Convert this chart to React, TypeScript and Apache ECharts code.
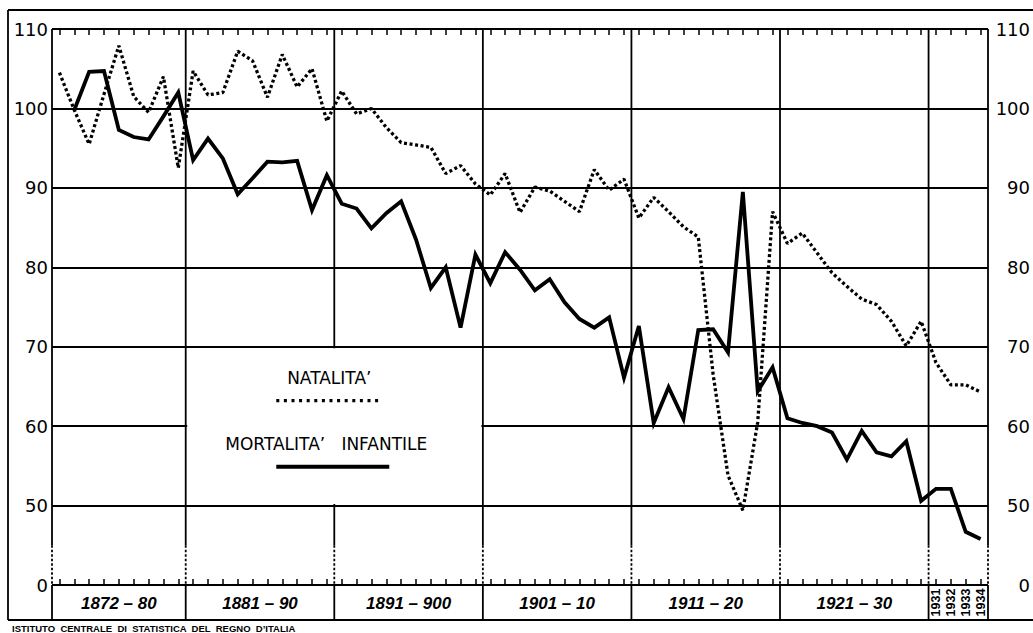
import React, { useEffect, useRef } from "react";
import * as echarts from "echarts";

const years = [
  "1872", "1873", "1874", "1875", "1876", "1877", "1878", "1879", "1880",
  "1881", "1882", "1883", "1884", "1885", "1886", "1887", "1888", "1889", "1890",
  "1891", "1892", "1893", "1894", "1895", "1896", "1897", "1898", "1899", "1900",
  "1901", "1902", "1903", "1904", "1905", "1906", "1907", "1908", "1909", "1910",
  "1911", "1912", "1913", "1914", "1915", "1916", "1917", "1918", "1919", "1920",
  "1921", "1922", "1923", "1924", "1925", "1926", "1927", "1928", "1929", "1930",
  "1931", "1932", "1933", "1934",
];

const natalita = [
  104.5, 99.8, 95.5, 101.8, 107.9, 101.5, 99.5, 104.0, 92.5,
  104.7, 101.7, 102.0, 107.2, 106.0, 101.4, 106.8, 102.7, 105.0, 98.4,
  102.2, 99.3, 100.0, 97.6, 95.7, 95.4, 95.1, 91.8, 92.8, 90.5,
  89.1, 91.8, 86.9, 90.1, 89.6, 88.3, 87.0, 92.3, 89.7, 91.1,
  86.2, 88.8, 87.0, 85.1, 83.8, 66.5, 53.8, 49.4, 60.5, 87.0,
  83.0, 84.3, 81.8, 79.3, 77.6, 76.0, 75.3, 73.2, 70.1, 73.2,
  68.0, 65.2, 65.2, 64.3,
];

const mortalita = [
  null, 99.8, 104.6, 104.7, 97.3, 96.4, 96.1, 99.0, 102.0,
  93.5, 96.2, 93.7, 89.2, 91.2, 93.3, 93.2, 93.4, 87.2, 91.6,
  88.0, 87.4, 84.9, 86.8, 88.3, 83.5, 77.4, 80.0, 72.4, 81.6,
  78.0, 81.9, 79.7, 77.1, 78.5, 75.6, 73.5, 72.4, 73.7, 66.1,
  72.6, 60.4, 64.9, 60.9, 72.1, 72.2, 69.3, 89.5, 64.4, 67.4,
  61.0, 60.4, 60.0, 59.2, 55.8, 59.4, 56.7, 56.2, 58.1, 50.6,
  52.1, 52.1, 46.7, 45.8,
];

// broken axis: bottom of scale is labelled 0
const axisMin = 40;
const axisMax = 110;
const axisStep = 10;
const breakValue = 45;

const decadeLabels = ["1872 – 80", "1881 – 90", "1891 – 900", "1901 – 10", "1911 – 20", "1921 – 30"];
const sectionStarts = [0, 9, 19, 29, 39, 49, 59]; // index of first year in each section
const singleYearStart = 59;
const legendNames = ["NATALITA’", "MORTALITA’   INFANTILE"];
const caption = "ISTITUTO  CENTRALE  DI  STATISTICA  DEL  REGNO  D’ITALIA";

export default function App() {
  const ref = useRef<HTMLDivElement>(null);

  useEffect(() => {
    const chart = echarts.init(ref.current!, null, { renderer: "svg" });
    const font = "DejaVu Sans";
    const tickCommon = {
      show: true,
      inside: true,
      alignWithLabel: true,
      interval: 0,
      length: 6,
      lineStyle: { color: "#000", width: 1.5 },
    };
    const yLabelFmt = (v: number) => (v === axisMin ? "0" : String(v));
    chart.setOption({
      animation: false,
      backgroundColor: "#fff",
      grid: { left: 52, right: 42, top: 29, bottom: 48 },
      xAxis: [
        {
          type: "category",
          data: years,
          position: "bottom",
          boundaryGap: true,
          axisLine: { show: false },
          axisLabel: { show: false },
          axisTick: tickCommon,
          splitLine: { show: false },
        },
        {
          type: "category",
          data: years,
          position: "top",
          boundaryGap: true,
          axisLine: { show: false },
          axisLabel: { show: false },
          axisTick: tickCommon,
          splitLine: { show: false },
        },
      ],
      yAxis: [
        {
          type: "value",
          min: axisMin,
          max: axisMax,
          interval: axisStep,
          position: "left",
          axisLine: { show: false },
          axisTick: { show: false },
          axisLabel: { formatter: yLabelFmt, fontSize: 18, color: "#000", fontFamily: font, margin: 4 },
          splitLine: { show: true, lineStyle: { color: "#000", width: 1.8 } },
        },
        {
          type: "value",
          min: axisMin,
          max: axisMax,
          interval: axisStep,
          position: "right",
          axisLine: { show: false },
          axisTick: { show: false },
          axisLabel: { formatter: yLabelFmt, fontSize: 18, color: "#000", fontFamily: font, margin: 42, align: "right" },
          splitLine: { show: false },
        },
      ],
      series: [
        {
          name: "Natalità",
          type: "line",
          data: natalita,
          symbol: "none",
          z: 3,
          lineStyle: { color: "#000", width: 3.3, type: [3, 2.6], cap: "butt" },
        },
        {
          name: "Mortalità infantile",
          type: "line",
          data: mortalita,
          symbol: "none",
          z: 4,
          lineStyle: { color: "#000", width: 3.8, join: "miter", cap: "butt" },
        },
      ],
    });

    const N = years.length;
    const cx = (i: number) => chart.convertToPixel({ xAxisIndex: 0 }, years[i]) as number;
    const band = cx(1) - cx(0);
    const edge = (i: number) => (i < N ? cx(i) - band / 2 : cx(N - 1) + band / 2);
    const yv = (v: number) => chart.convertToPixel({ yAxisIndex: 0 }, v) as number;

    const yTop = yv(axisMax);
    const yBot = yv(axisMin);
    const yBreak = yv(breakValue);
    const rowBottom = 620;
    const rowMid = (yBot + rowBottom) / 2;
    const lw = 1.8;
    const ln = (x1: number, y1: number, x2: number, y2: number, extra: any = {}) => ({
      type: "line",
      z: 10,
      shape: { x1, y1, x2, y2 },
      style: { stroke: "#000", lineWidth: lw, ...extra },
    });

    const g: any[] = [];
    // outer frame
    g.push(ln(8, 10, 1033, 10));
    g.push(ln(8, 10, 8, rowBottom));
    g.push(ln(8, rowBottom, 1033, rowBottom));

    // vertical section lines
    const edgeIdx = [...sectionStarts, N];
    edgeIdx.forEach((i) => {
      const x = edge(i);
      g.push(ln(x, yTop, x, yBreak));
      g.push(ln(x, yBreak, x, yBot, { lineDash: [2.5, 2] }));
      g.push(ln(x, yBot, x, rowBottom));
    });

    // legend box (white area bounded by grid lines)
    const bx0 = edge(sectionStarts[1]);
    const bx1 = edge(sectionStarts[3]);
    const by0 = yv(70);
    const by1 = yv(50);
    g.push({
      type: "rect",
      z: 20,
      shape: { x: bx0 + 1.5, y: by0 + 1.5, width: bx1 - bx0 - 3, height: by1 - by0 - 3 },
      style: { fill: "#fff", stroke: null },
    });
    const lcx = (bx0 + bx1) / 2 - 5;
    g.push({
      type: "text",
      z: 30,
      style: {
        text: legendNames[0], x: lcx, y: by0 + 31, fill: "#000",
        fontSize: 17, fontFamily: font, align: "center", verticalAlign: "middle",
        textAlign: "center", textVerticalAlign: "middle",
      },
    });
    g.push({
      type: "line",
      z: 30,
      shape: { x1: lcx - 53, y1: by0 + 54, x2: lcx + 53, y2: by0 + 54 },
      style: { stroke: "#000", lineWidth: 3.2, lineDash: [3, 4.6] },
    });
    g.push({
      type: "text",
      z: 30,
      style: {
        text: legendNames[1], x: lcx - 3, y: by0 + 97, fill: "#000",
        fontSize: 17, fontFamily: font, align: "center", verticalAlign: "middle",
        textAlign: "center", textVerticalAlign: "middle",
      },
    });
    g.push({
      type: "line",
      z: 30,
      shape: { x1: lcx - 53, y1: by0 + 120, x2: lcx + 60, y2: by0 + 120 },
      style: { stroke: "#000", lineWidth: 4 },
    });

    // decade labels
    decadeLabels.forEach((lab, k) => {
      const x = (edge(sectionStarts[k]) + edge(sectionStarts[k + 1])) / 2;
      g.push({
        type: "text",
        z: 30,
        style: {
          text: lab, x, y: rowMid + 1, fill: "#000",
          fontSize: 17, fontFamily: "Liberation Sans", fontStyle: "italic", fontWeight: "bold",
          align: "center", verticalAlign: "middle", textAlign: "center", textVerticalAlign: "middle",
        },
      });
    });
    // single years, vertical
    for (let i = singleYearStart; i < N; i++) {
      g.push({
        type: "text",
        z: 30,
        x: cx(i),
        y: rowMid,
        rotation: Math.PI / 2,
        style: {
          text: years[i], x: 0, y: 0, fill: "#000",
          fontSize: 12.5, fontFamily: "Liberation Sans", fontWeight: "bold",
          align: "center", verticalAlign: "middle", textAlign: "center", textVerticalAlign: "middle",
        },
      });
    }
    // caption
    g.push({
      type: "text",
      z: 30,
      style: {
        text: caption, x: 12, y: 628.5, fill: "#000",
        fontSize: 9.5, fontFamily: "Liberation Sans", fontWeight: "bold",
        align: "left", verticalAlign: "middle", textAlign: "left", textVerticalAlign: "middle",
      },
    });

    chart.setOption({ graphic: g });

    return () => chart.dispose();
  }, []);

  return (
    <div
      ref={ref}
      style={{ position: "fixed", left: 0, top: 0, width: 1033, height: 633, background: "#fff" }}
    />
  );
}
